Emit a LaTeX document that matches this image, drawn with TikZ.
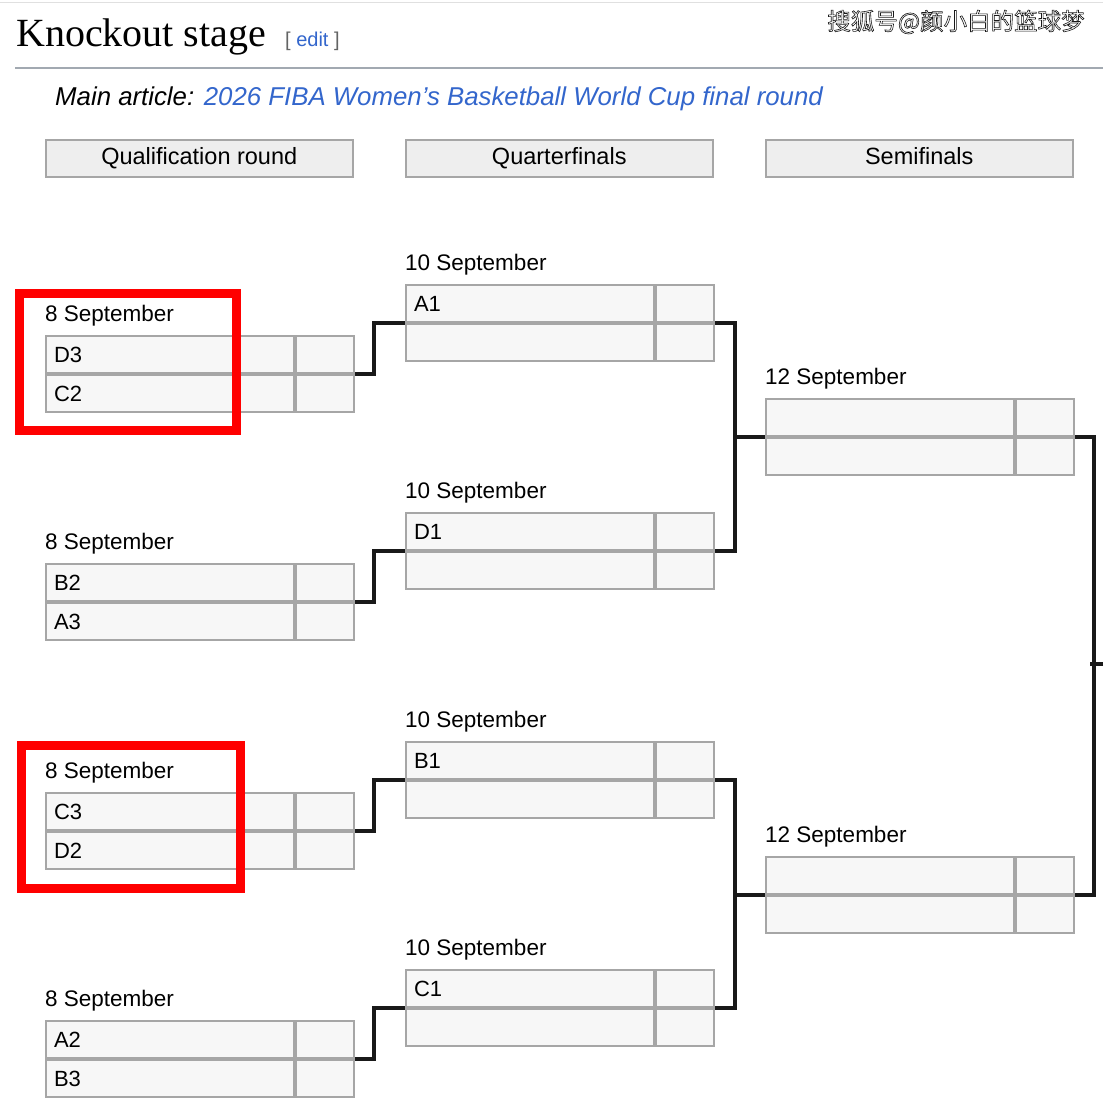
\documentclass[tikz,border=0pt]{standalone}
\usepackage{fontspec}
\setmainfont{Liberation Sans}
\newfontfamily\titlefont{Liberation Serif}
\newfontfamily\cjkfont{Noto Sans CJK SC}
\usetikzlibrary{positioning}
\definecolor{cellfill}{HTML}{F7F7F7}
\definecolor{cellline}{HTML}{A6A6A6}
\definecolor{headfill}{HTML}{EEEEEE}
\definecolor{linkblue}{HTML}{3366CC}
\definecolor{rulegray}{HTML}{A2A9B1}
\definecolor{markred}{HTML}{FF0000}
\definecolor{bracket}{HTML}{202122}

\begin{document}
\begin{tikzpicture}[x=1pt,y=-1pt,
  team/.style={draw=cellline,line width=2pt,fill=cellfill,anchor=north west,minimum height=37pt,
    text width=232pt,inner xsep=8pt,inner ysep=0pt,align=left,text height=15.5pt,text depth=0pt,
    font=\fontsize{22}{22}\selectfont},
  score/.style={draw=cellline,line width=2pt,fill=cellfill,minimum width=58pt,minimum height=37pt,inner sep=0pt},
  date/.style={anchor=base west,inner sep=0pt,font=\fontsize{22.5}{22.5}\selectfont},
  head/.style={draw=cellline,line width=1.5pt,fill=headfill,anchor=north west,minimum width=307pt,
    minimum height=37pt,inner sep=0pt,text height=17pt,text depth=5pt,font=\fontsize{23.5}{23.5}\selectfont},
  link/.style={line width=4pt,draw=black!90},
  redbox/.style={draw=markred,line width=9pt},
  wmark/.style={inner sep=0pt,text=white,font=\cjkfont\fontsize{23.5}{23.5}\selectfont}]
  \useasboundingbox[fill=white] (0,0) rectangle (1103,1116);

  \draw[black!12,line width=1pt] (0,2.5) -- (1103,2.5);
  \node[anchor=base west,inner sep=0pt,font=\titlefont\fontsize{40}{40}\selectfont] (title) at (16,47) {Knockout stage};
  \node[anchor=base west,inner sep=0pt,font=\fontsize{20}{20}\selectfont] (edit) at (285,47)
    {\textcolor{bracket!70}{[} \textcolor{linkblue}{edit} \textcolor{bracket!70}{]}};
  \draw[rulegray,line width=1.5pt] (15,68) -- (1103,68);
  \node[anchor=base west,inner sep=0pt,font=\itshape\fontsize{25.8}{25.8}\selectfont] (main) at (55,105)
    {Main article: \textcolor{linkblue}{2026 FIBA Women's Basketball World Cup final round}};

  \node[wmark] (wm) at (956,22)
    {\special{pdf:literal direct 0.1 G 0.6 w 2 Tr}搜狐号@颜小白的篮球梦\special{pdf:literal direct 0 Tr}};

  \node[head] (hq) at (45,139) {Qualification round};
  \node[head] (hf) at (405,139) {Quarterfinals};
  \node[head] (hs) at (765,139) {Semifinals};

  \foreach \n/\x/\y/\dt/\ta/\tb in {q1/45/335/8/D3/C2,q2/45/563/8/B2/A3,q3/45/792/8/C3/D2,q4/45/1020/8/A2/B3,
      f1/405/284/10/A1/{},f2/405/512/10/D1/{},f3/405/741/10/B1/{},f4/405/969/10/C1/{},
      s1/765/398/12/{}/{},s2/765/856/12/{}/{}} {
    \node[team] (\n-a) at (\x,\y) {\ta};
    \node[score,right=0pt of \n-a] (\n-as) {};
    \node[team,below=0pt of \n-a] (\n-b) {\tb};
    \node[score,right=0pt of \n-b] (\n-bs) {};
    \node[date] (\n-d) at ([yshift=14pt]\n-a.north west) {\dt\ September};
  }

  \draw[link] (q1-as.south east) -- ++(19,0) |- (f1-a.south west);
  \draw[link] (q2-as.south east) -- ++(19,0) |- (f2-a.south west);
  \draw[link] (q3-as.south east) -- ++(19,0) |- (f3-a.south west);
  \draw[link] (q4-as.south east) -- ++(19,0) |- (f4-a.south west);
  \draw[link] (f1-as.south east) -- ++(20,0) |- (f2-as.south east);
  \draw[link] (f3-as.south east) -- ++(20,0) |- (f4-as.south east);
  \draw[link] (s1-a.south west) -- ++(-32,0);
  \draw[link] (s2-a.south west) -- ++(-32,0);
  \draw[link] (s1-as.south east) -- ++(19,0) |- (s2-as.south east);
  \coordinate (final) at (1103,664);
  \draw[link] (final) -- ++(-13,0);

  \draw[redbox] (19.5,293) rectangle (236,430);
  \draw[redbox] (21,745) rectangle (240,888);
\end{tikzpicture}
\end{document}
